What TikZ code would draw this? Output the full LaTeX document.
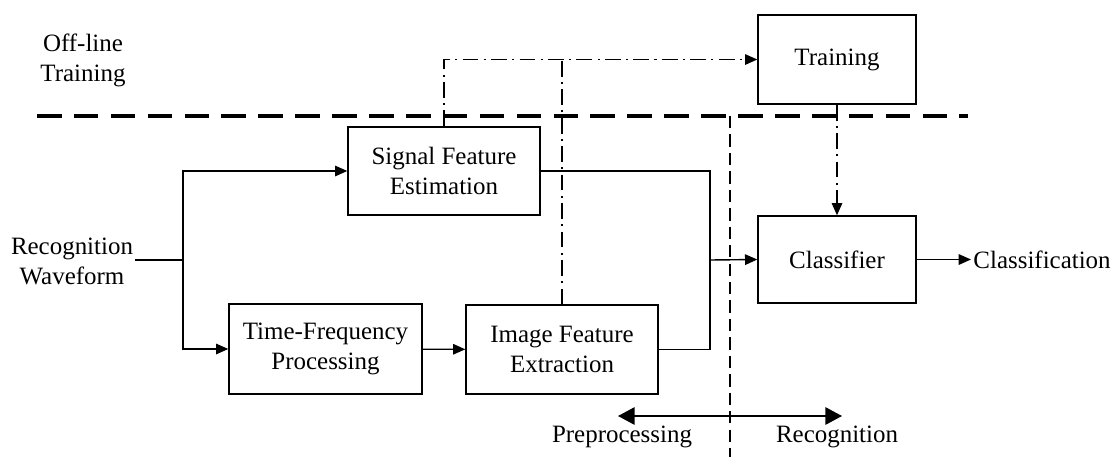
\documentclass[tikz,border=0pt]{standalone}
\usepackage{fontspec}
\setmainfont{Liberation Serif}
\usetikzlibrary{arrows.meta}
\tikzset{
  blk/.style={draw,line width=0.8pt,align=center,inner sep=0pt},
  lbl/.style={align=center,inner sep=1pt},
  arr/.style={-{Triangle[length=7pt,width=6pt]}},
  dd/.style={dash pattern=on 9pt off 3pt on 1.2pt off 3pt},
  fine/.style={dash pattern=on 7pt off 3.5pt}
}
\begin{document}
\begin{tikzpicture}[x=0.02cm,y=-0.02cm,line width=0.8pt,
    font=\fontsize{14.2}{17}\selectfont]
  \useasboundingbox (0,0) rectangle (1119,457);
  % blocs
  \node[blk,minimum width=3.84cm,minimum height=1.76cm] (sig) at (444,171) {Signal Feature\\Estimation};
  \node[blk,minimum width=3.86cm,minimum height=1.8cm] (tf) at (325.5,349) {Time-Frequency\\Processing};
  \node[blk,minimum width=3.84cm,minimum height=1.78cm] (img) at (562,349.5) {Image Feature\\Extraction};
  \node[blk,minimum width=3.16cm,minimum height=1.78cm] (trn) at (837,59.5) {Training};
  \node[blk,minimum width=3.16cm,minimum height=1.74cm] (cls) at (837,259.5) {Classifier};
  % textes
  \node[lbl] (off) at (83,60) {Off-line\\Training};
  \node[lbl] (wave) at (72,261) {Recognition\\Waveform};
  \node[lbl,anchor=west] (out) at (971,259.5) {Classification};
  \node[lbl] (pre) at (622,437) {Preprocessing};
  \node[lbl] (rec) at (837,437) {Recognition};
  \coordinate (fork) at (183,260);
  \coordinate (merge) at (710,260);
  \coordinate (dl) at (37,116);
  \coordinate (dr) at (968,116);
  \coordinate (vt) at (730,116);
  \coordinate (vb) at (730,457);
  \coordinate (pl) at (618,416);
  \coordinate (pr) at (842,416);
  % chemins
  \draw (wave.east |- fork) -- (fork);
  \draw[arr] (fork) |- (sig.west);
  \draw[arr] (fork) |- (tf.west);
  \draw[arr] (tf) -- (img);
  \draw (sig.east) -| (merge);
  \draw (img.east) -| (merge);
  \draw[arr] (merge) -- (cls.west);
  \draw[arr] (cls.east) -- (out.west);
  \draw[dd,arr] (sig.north) |- (trn.west);
  \draw[dd] (img.north) -- (img.north |- trn.west);
  \draw[dd,arr] (trn.south) -- (cls.north);
  \draw[line width=2.3pt,dash pattern=on 14pt off 7pt] (dl) -- (dr);
  \draw[fine] (vt) -- (vb);
  \draw[{Triangle[length=9.5pt,width=10pt]}-{Triangle[length=9.5pt,width=10pt]}] (pl) -- (pr);
\end{tikzpicture}
\end{document}
